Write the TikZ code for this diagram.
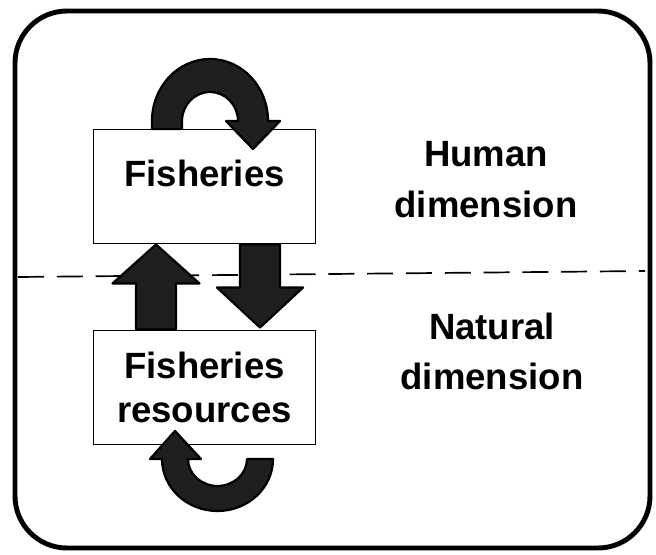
\documentclass[tikz,border=0pt]{standalone}
\usepackage{fontspec}
\setmainfont{Liberation Sans}
\usetikzlibrary{calc}

\tikzset{
  box/.style={draw, line width=1.4pt, minimum width=55.5mm, minimum height=28.5mm,
    inner sep=0pt, align=center, font=\bfseries\fontsize{26}{31}\selectfont},
  dimlabel/.style={align=center, font=\bfseries\fontsize{26}{36}\selectfont},
  blockarrow/.style={draw=black, fill=black!88, line width=1.6pt, line join=round},
}

\begin{document}
\begin{tikzpicture}[x=0.25mm, y=-0.25mm]

    \useasboundingbox (0,0) rectangle (656,554);

    % Draw the outer frame
    \draw[line width=3.5pt, rounded corners=13mm] (15,11) rectangle (650,548);

    % Dashed line between the human and the natural dimension
    \coordinate (divL) at (18,277);
    \coordinate (divR) at (645,271);
    \draw[line width=1.2pt, dash pattern=on 6.5mm off 3.2mm] (divL) -- (divR);

    % The two boxes
    \node[box, text height=18.5pt, text depth=18.5pt] (fish) at (204.5,186.5) {Fisheries};
    \node[box] (res) at (204.5,387.5) {Fisheries\\resources};

    % Labels of the two dimensions
    \node[dimlabel] (human) at (486,179.5) {Human\\dimension};
    \node[dimlabel] (natural) at (492,351.5) {Natural\\dimension};

    % Up arrow from the resources to the fisheries
    \coordinate (upFoot) at ($(res.north)+(-48.5,0)$);
    \coordinate (upTip) at ($(fish.south)+(-48.5,0)$);
    \draw[blockarrow] ($(upFoot)+(-20,0)$) -- ($(upTip)+(-20,39)$) -- ($(upTip)+(-43.5,39)$)
      -- (upTip) -- ($(upTip)+(43.5,39)$) -- ($(upTip)+(20,39)$) -- ($(upFoot)+(20,0)$) -- cycle;

    % Down arrow from the fisheries to the resources
    \coordinate (downTop) at ($(fish.south)+(55.5,0)$);
    \coordinate (downTip) at ($(res.north)+(55.5,-2)$);
    \draw[blockarrow] ($(downTop)+(-20,0)$) -- ($(downTip)+(-20,-40)$) -- ($(downTip)+(-43,-40)$)
      -- (downTip) -- ($(downTip)+(43,-40)$) -- ($(downTip)+(20,-40)$) -- ($(downTop)+(20,0)$) -- cycle;

    % Loop on top of the fisheries box
    \coordinate (topC) at ($(fish.north)+(5.5,-7.5)$);
    \draw[blockarrow] ($(topC)+(-58,8)$) -- ($(topC)+(-58,0)$)
      arc[start angle=180, end angle=360, x radius=58, y radius=62]
      -- ($(topC)+(70,0)$) -- ($(topC)+(43,28)$) -- ($(topC)+(16,0)$) -- ($(topC)+(28,0)$)
      arc[start angle=360, end angle=180, x radius=28, y radius=29]
      -- ($(topC)+(-28,8)$) -- cycle;

    % Loop under the resources box
    \coordinate (botC) at ($(res.south)+(13,13.5)$);
    \draw[blockarrow] ($(botC)+(55.5,0)$)
      arc[start angle=0, end angle=180, x radius=55.5, y radius=52]
      -- ($(botC)+(-67.5,0)$) -- ($(botC)+(-42.5,-28)$) -- ($(botC)+(-16.5,0)$) -- ($(botC)+(-29.5,0)$)
      arc[start angle=180, end angle=0, x radius=29.5, y radius=27] -- cycle;

\end{tikzpicture}
\end{document}
